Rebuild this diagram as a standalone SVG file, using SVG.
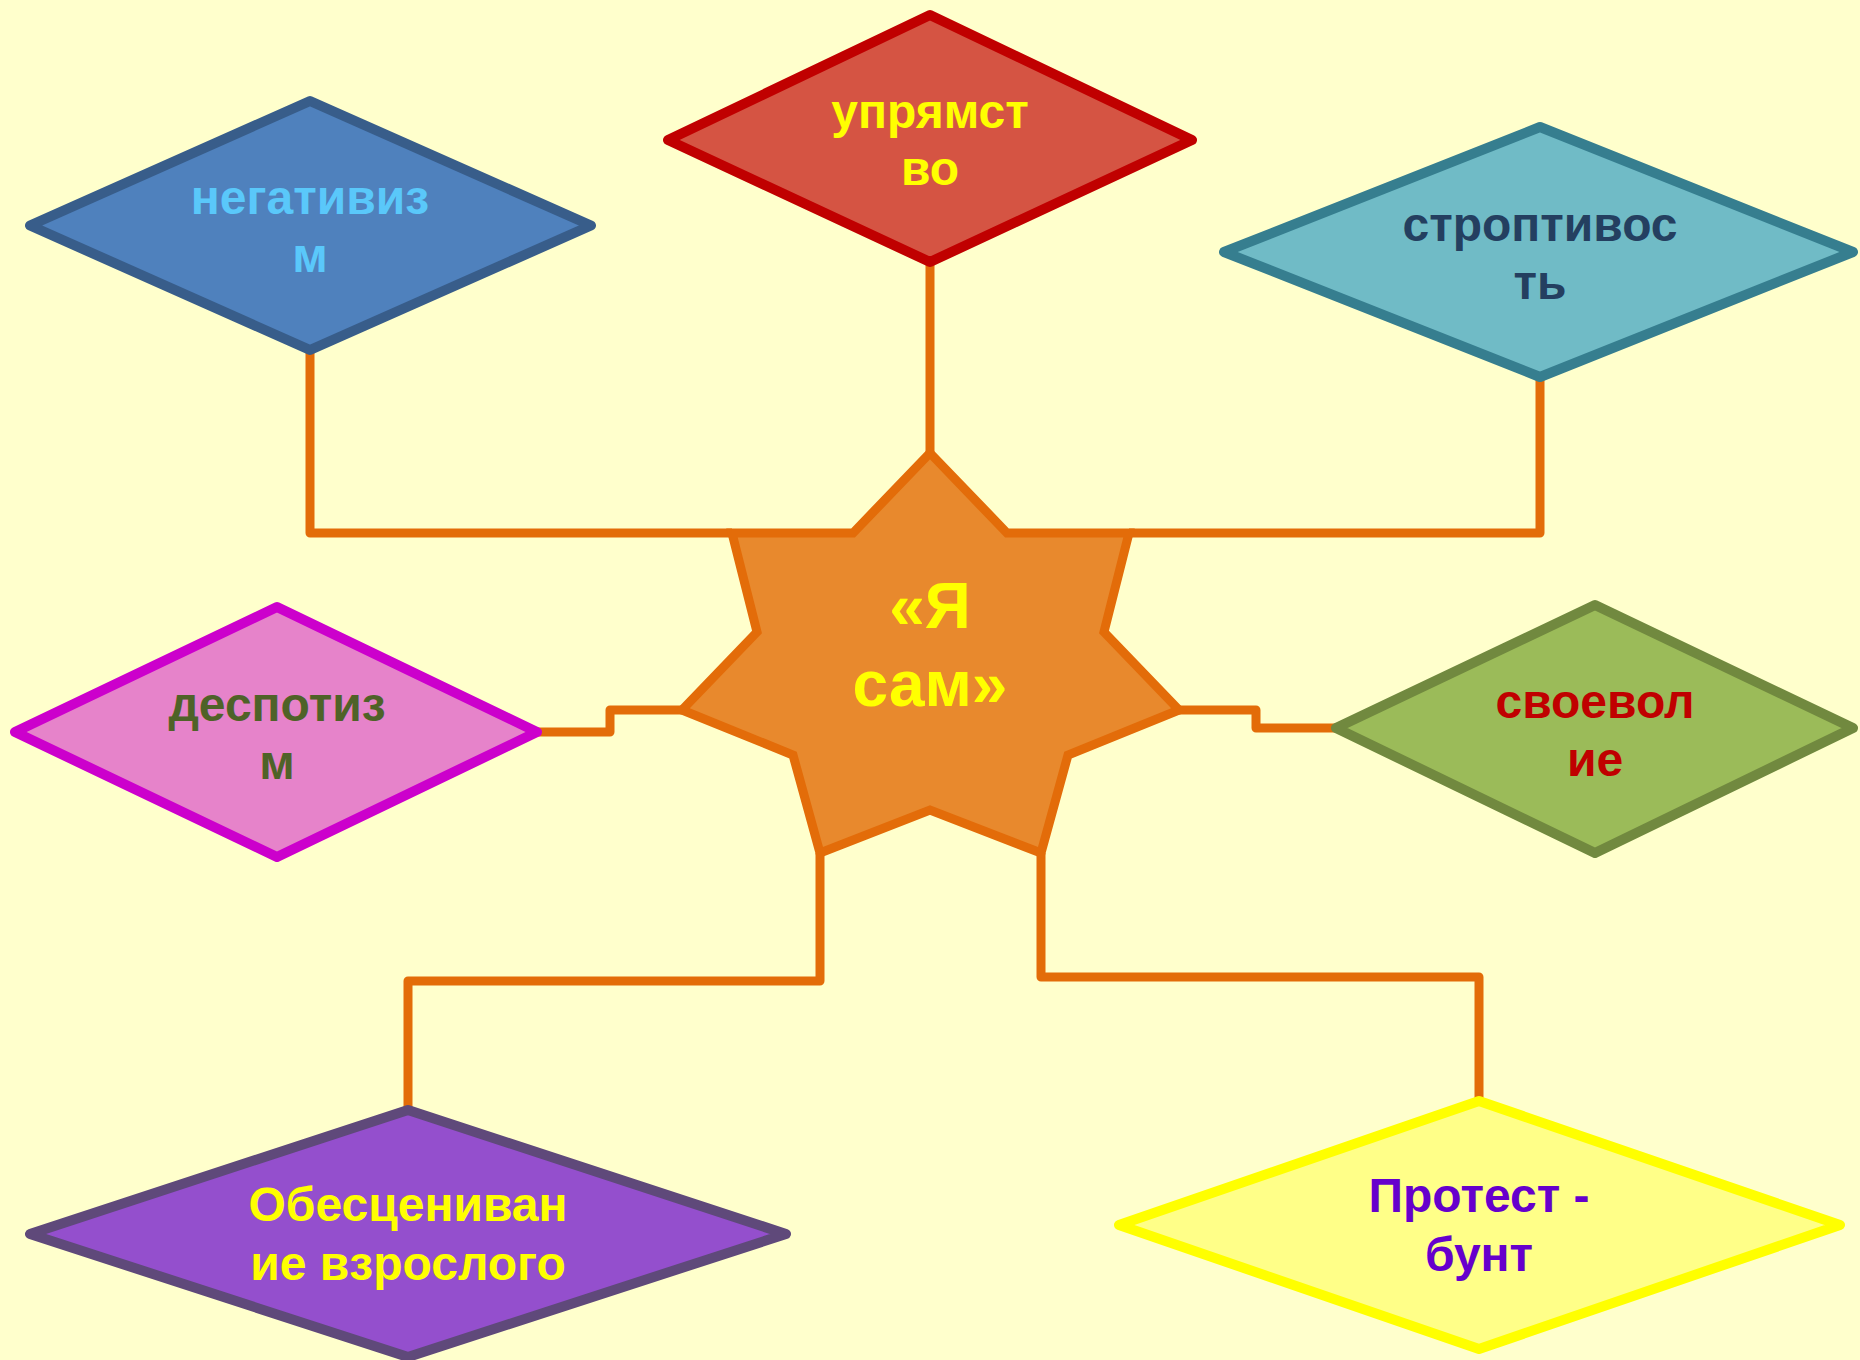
<svg xmlns="http://www.w3.org/2000/svg" width="1860" height="1360" viewBox="0 0 1860 1360">
<style>
.conn{fill:none;stroke:#E36C09;stroke-width:9;stroke-linejoin:round;stroke-linecap:butt}
.dia{stroke-width:10;stroke-linejoin:round}
.t{font-family:"Liberation Sans",Arial,sans-serif;font-weight:bold;font-size:48px;text-anchor:middle}
.st{font-family:"Liberation Sans",Arial,sans-serif;font-weight:bold;font-size:64px;text-anchor:middle;fill:#FFFF00}
</style>
<rect width="1860" height="1360" fill="#FFFFCC"/>
<g id="connectors">
<polyline class="conn" points="310,350 310,533 732,533"/>
<polyline class="conn" points="930,261 930,454"/>
<polyline class="conn" points="1540,377 1540,533 1129,533"/>
<polyline class="conn" points="537,732 610,732 610,710 682,710"/>
<polyline class="conn" points="1179,710 1256,710 1256,728 1336,728"/>
<polyline class="conn" points="820,853 820,981 408,981 408,1110"/>
<polyline class="conn" points="1041,853 1041,977 1479,977 1479,1101"/>
</g>
<g id="center">
<polygon points="930,453 1007,533 1129,533 1104,632 1179,710 1068,755 1041,853 930,810 820,853 793,755 682,710 757,632 732,533 853,533" fill="#E8892D" stroke="#E36C09" stroke-width="9" stroke-linejoin="miter"/>
<text class="st" x="930" y="628">«Я</text>
<text class="st" x="930" y="706">сам»</text>
</g>
<g id="negativizm">
<polygon class="dia" points="30,225.5 310,101 591,225.5 310,350" fill="#4F81BD" stroke="#385D8A"/>
<text class="t" fill="#5AC8FA" x="310" y="214">негативиз</text>
<text class="t" fill="#5AC8FA" x="310" y="272">м</text>
</g>
<g id="upryamstvo">
<polygon class="dia" points="668,140 930,15 1192,140 930,262" fill="#D55443" stroke="#C00000"/>
<text class="t" fill="#FFFF00" x="930" y="128">упрямст</text>
<text class="t" fill="#FFFF00" x="930" y="185">во</text>
</g>
<g id="stroptivost">
<polygon class="dia" points="1224,252 1540,127 1853,252 1540,377" fill="#70BBC6" stroke="#367E8F"/>
<text class="t" fill="#243F60" x="1540" y="241">строптивос</text>
<text class="t" fill="#243F60" x="1540" y="299">ть</text>
</g>
<g id="despotizm">
<polygon class="dia" points="15,732 277,607 537,732 277,857" fill="#E683CA" stroke="#CC00CC"/>
<text class="t" fill="#4F6228" x="277" y="721">деспотиз</text>
<text class="t" fill="#4F6228" x="277" y="779">м</text>
</g>
<g id="svoevolie">
<polygon class="dia" points="1336,728 1595,605 1853,728 1595,853" fill="#9BBB59" stroke="#71893F"/>
<text class="t" fill="#C00000" x="1595" y="718">своевол</text>
<text class="t" fill="#C00000" x="1595" y="776">ие</text>
</g>
<g id="obescenivanie">
<polygon class="dia" points="30,1234 408,1110 786,1234 408,1357" fill="#944FCD" stroke="#5F497A"/>
<text class="t" fill="#FFFF00" x="408" y="1221">Обесцениван</text>
<text class="t" fill="#FFFF00" x="408" y="1280">ие взрослого</text>
</g>
<g id="protest">
<polygon class="dia" points="1119,1225 1479,1101 1840,1225 1479,1349" fill="#FFFF88" stroke="#FFFF00"/>
<text class="t" fill="#6600CC" x="1479" y="1212">Протест -</text>
<text class="t" fill="#6600CC" x="1479" y="1271">бунт</text>
</g>
</svg>
